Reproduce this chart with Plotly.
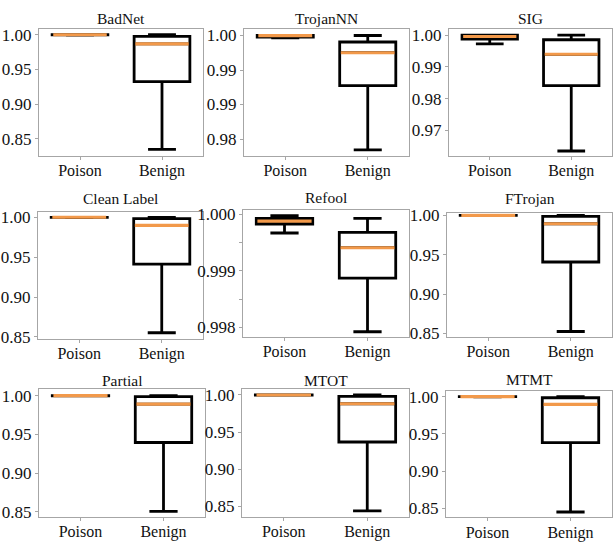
import plotly.graph_objects as go

W, H = 613, 543

# ---------------- data ----------------
panel_titles = ["BadNet", "TrojanNN", "SIG", "Clean Label", "Refool", "FTrojan",
                "Partial", "MTOT", "MTMT"]
categories = ["Poison", "Benign"]

# stats per panel: [lower whisker, q1, median, q3, upper whisker]
poison_stats = [
    [0.9996, 0.9998, 0.99995, 1.0, 1.0],          # BadNet
    [0.99966, 0.99976, 0.99998, 1.0, 1.0],        # TrojanNN
    [0.99725, 0.9988, 0.99958, 1.0, 1.0],         # SIG
    [0.9997, 0.9999, 1.0, 1.0, 1.0],              # Clean Label
    [0.99967, 0.99983, 0.99988, 0.99993, 0.99998],  # Refool
    [0.9997, 0.9999, 1.0, 1.0, 1.0],              # FTrojan
    [0.9997, 0.9999, 1.0, 1.0, 1.0],              # Partial
    [0.9997, 0.9999, 1.0, 1.0, 1.0],              # MTOT
    [0.9997, 0.9999, 1.0, 1.0, 1.0],              # MTMT
]
benign_stats = [
    [0.8345, 0.9324, 0.9869, 0.9976, 1.0],        # BadNet
    [0.98343, 0.99274, 0.99751, 0.99906, 1.0],    # TrojanNN
    [0.96355, 0.98410, 0.99398, 0.99856, 1.0],    # SIG
    [0.8552, 0.9413, 0.9899, 0.9984, 1.0],        # Clean Label
    [0.99792, 0.99887, 0.99941, 0.99968, 0.99993],  # Refool
    [0.8524, 0.9407, 0.9893, 0.9988, 1.0],        # FTrojan
    [0.8508, 0.9396, 0.9891, 0.9987, 1.0],        # Partial
    [0.8434, 0.9365, 0.9882, 0.9982, 1.0],        # MTOT
    [0.8453, 0.9383, 0.9896, 0.9985, 1.0],        # MTMT
]

ticks_a = [0.85, 0.90, 0.95, 1.00]
labels_a = ["0.85", "0.90", "0.95", "1.00"]
ticks_trojannn = [0.985, 0.990, 0.995, 1.000]
labels_trojannn = ["0.98", "0.99", "0.99", "1.00"]
ticks_sig = [0.97, 0.98, 0.99, 1.00]
labels_sig = ["0.97", "0.98", "0.99", "1.00"]
ticks_refool = [0.998, 0.9985, 0.999, 0.9995, 1.000]
labels_refool = ["0.998", "", "0.999", "", "1.000"]

y_ticks = [ticks_a, ticks_trojannn, ticks_sig, ticks_a, ticks_refool, ticks_a,
           ticks_a, ticks_a, ticks_a]
y_labels = [labels_a, labels_trojannn, labels_sig, labels_a, labels_refool, labels_a,
            labels_a, labels_a, labels_a]
y_ranges = [
    [0.8254, 1.0078], [0.98257, 1.00089], [0.96205, 1.00183],
    [0.8479, 1.00645], [0.997833, 1.000074], [0.8459, 1.0028],
    [0.8441, 1.0084], [0.8359, 1.0079], [0.8379, 1.0074],
]

# ---------------- layout geometry (pixels) ----------------
x_px = [(39, 203), (244, 409), (449, 612),
        (38, 203), (243, 409), (447, 612),
        (39, 205), (242, 409), (446, 612)]
y_px = [(23, 153), (23, 153), (23, 153),
        (211, 341), (209, 339), (212, 339),
        (393, 524), (393, 524), (395, 525)]
title_y_px = [12, 12, 12, 197, 196, 197, 384, 384, 383]

BOX_W = 0.68
BLACK = "#000000"
ORANGE = "#f2994a"
FRAME = "#a6a6a6"
FONT = "Liberation Serif"

fig = go.Figure()
annotations = []
layout_axes = {}

for i, name in enumerate(panel_titles):
    n = "" if i == 0 else str(i + 1)
    xa, ya = "x" + n, "y" + n
    for cat, st in zip(categories, [poison_stats[i], benign_stats[i]]):
        lo, q1, med, q3, hi = st
        fig.add_trace(go.Box(
            x=[cat], q1=[q1], median=[med], q3=[q3], lowerfence=[lo], upperfence=[hi],
            xaxis=xa, yaxis=ya, width=BOX_W, whiskerwidth=0.5,
            line=dict(color=BLACK, width=2.8), fillcolor="rgba(0,0,0,0)",
            boxpoints=False, hoverinfo="skip", showlegend=False,
        ))
        # orange median line overlay
        fig.add_trace(go.Box(
            x=[cat], q1=[med], median=[med], q3=[med], lowerfence=[med], upperfence=[med],
            xaxis=xa, yaxis=ya, width=BOX_W * 0.96, whiskerwidth=0,
            line=dict(color=ORANGE, width=3.1), fillcolor="rgba(0,0,0,0)",
            boxpoints=False, hoverinfo="skip", showlegend=False,
        ))

    x0, x1 = x_px[i]
    yt, yb = y_px[i]
    layout_axes["xaxis" + n] = dict(
        domain=[x0 / W, x1 / W], anchor=ya, type="category",
        categoryorder="array", categoryarray=categories,
        range=[-0.5, 1.5], showline=True, mirror=True, linecolor=FRAME, linewidth=1,
        ticks="outside", ticklen=3, tickcolor=FRAME, showgrid=False, zeroline=False,
        ticklabelstandoff=-3,
        tickfont=dict(family=FONT, size=16, color="#111111"), fixedrange=True,
    )
    layout_axes["yaxis" + n] = dict(
        domain=[1 - yb / H, 1 - yt / H], anchor=xa, range=y_ranges[i],
        tickmode="array", tickvals=y_ticks[i], ticktext=y_labels[i],
        showline=True, mirror=True, linecolor=FRAME, linewidth=1,
        ticks="outside", ticklen=3, tickcolor=FRAME, showgrid=False, zeroline=False,
        tickfont=dict(family=FONT, size=17, color="#111111"), fixedrange=True,
    )
    annotations.append(dict(
        text=name, xref="paper", yref="paper", x=(x0 + x1) / 2 / W,
        y=1 - title_y_px[i] / H, xanchor="center", yanchor="middle",
        showarrow=False, font=dict(family=FONT, size=15.5, color="#111111"),
    ))

fig.update_layout(
    width=W, height=H, margin=dict(l=0, r=0, t=0, b=0),
    paper_bgcolor="white", plot_bgcolor="white", boxmode="overlay",
    annotations=annotations, **layout_axes,
)

fig.write_html(
    "out.html", config={"displayModeBar": False},
    post_script="document.documentElement.style.margin='0';document.body.style.margin='0';document.body.style.overflow='hidden';",
)
